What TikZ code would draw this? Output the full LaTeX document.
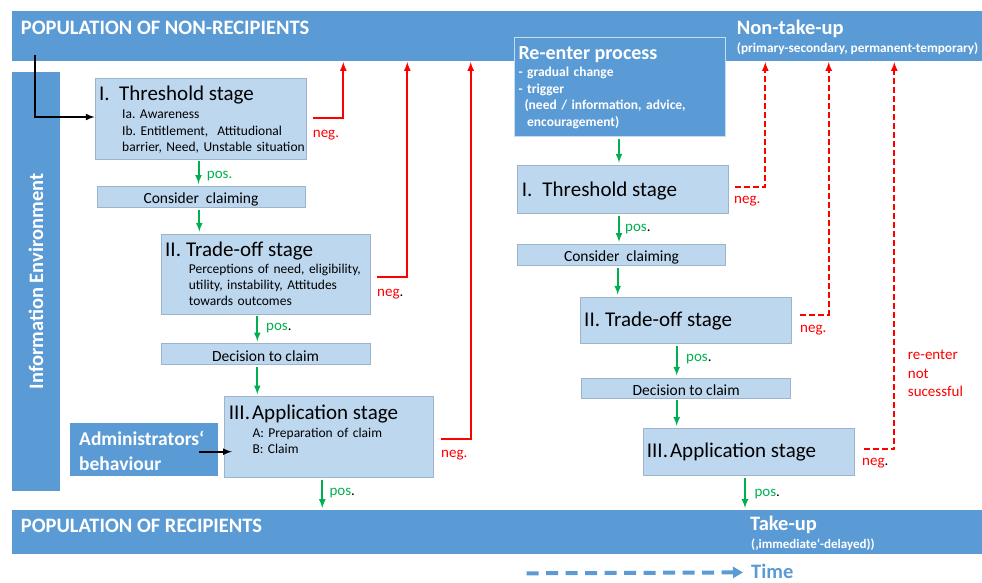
\documentclass[tikz,border=0pt]{standalone}
\usepackage{fontspec}
\setmainfont{Carlito}
\usetikzlibrary{arrows.meta}
\definecolor{dblue}{HTML}{5B9BD5}
\definecolor{lblue}{HTML}{BDD7EE}
\definecolor{lbline}{HTML}{9DB5CC}
\definecolor{pgreen}{HTML}{00B050}
\definecolor{nred}{HTML}{FF0000}

\begin{document}
\frenchspacing
\begin{tikzpicture}[x=1pt,y=-1pt,>=latex,
      band/.style={fill=dblue,inner sep=0pt,anchor=north west},
      lbox/.style={draw=lbline,fill=lblue,inner sep=0pt,line width=0.8pt},
      nbox/.style={lbox,minimum height=21pt,text height=14pt,text depth=0pt,font=\fontsize{15.5}{18}\selectfont},
      dbox/.style={fill=dblue,inner sep=0pt},
      hd/.style={font=\fontsize{20.5}{24}\selectfont\bfseries,text=white,inner sep=0pt,anchor=base west},
      hdsmall/.style={hd,font=\fontsize{13}{16.5}\selectfont\bfseries},
      stg/.style={font=\fontsize{21}{25}\selectfont,inner sep=0pt,anchor=base west},
      sub/.style={font=\fontsize{13.5}{16.2}\selectfont,inner sep=0pt,anchor=base west,text width=200pt,align=left},
      lbl/.style={font=\fontsize{15}{18.7}\selectfont,inner sep=0pt,anchor=base west},
      plbl/.style={lbl,text=pgreen},
      nlbl/.style={lbl,text=nred},
      posarr/.style={->,pgreen,line width=2pt,shorten <=2pt,shorten >=2pt},
      negarr/.style={->,nred,line width=2pt},
      negdash/.style={negarr,dash pattern=on 6pt off 3pt}]
      \useasboundingbox (0,0) rectangle (982,583);

      \node[band,minimum width=970pt,minimum height=50pt] (nonrec) at (12,11) {};
      \node[hd] (nonrectxt) at (20.7,34.3) {POPULATION OF NON-RECIPIENTS};
      \node[hd] (ntu) at (736.7,34.3) {Non-take-up};
      \node[hdsmall,font=\fontsize{13.3}{16.5}\selectfont\bfseries] (ntusub) at (736.7,52.7) {(primary-secondary, permanent-temporary)};
      \node[band,minimum width=970pt,minimum height=44pt] (rec) at (12,510) {};
      \node[hd] (rectxt) at (20.7,532.7) {POPULATION OF RECIPIENTS};
      \node[hd] (tu) at (750,530.7) {Take-up};
      \node[hdsmall] (tusub) at (751,548.3) {(‚immediate‘-delayed))};
      \node[dbox,rotate=90,minimum width=419pt,minimum height=48pt,font=\fontsize{20.5}{24}\selectfont\bfseries,text=white] (infoenv) at (36,281.5) {Information Environment};

      \node[lbox,minimum width=211pt,minimum height=81pt] (th1) at (200.5,118.5) {};
      \node[stg] (th1t) at (99,100.7) {\makebox[20pt][l]{I.}Threshold stage};
      \node[sub] (th1s) at (122,119) {Ia. Awareness\\Ib. Entitlement,\ \ Attitudional\\barrier, Need, Unstable situation};
      \node[nbox,minimum width=208pt] (cc1) at (201,196.7) {Consider\ \ claiming};
      \node[lbox,minimum width=209pt,minimum height=80pt] (tr1) at (265.5,274) {};
      \node[stg] (tr1t) at (165,256) {\makebox[21pt][l]{II.}Trade-off stage};
      \node[sub] (tr1s) at (188.7,273.3) {Perceptions of need, eligibility,\\utility, instability, Attitudes\\towards outcomes};
      \node[nbox,minimum width=209pt] (dc1) at (265.5,354.3) {Decision to claim};
      \node[lbox,minimum width=209pt,minimum height=80.6pt] (app1) at (328.8,437) {};
      \node[stg] (app1t) at (228.7,419.3) {III.\hspace{2pt}Application stage};
      \node[sub] (app1s) at (252.3,437.3) {A: Preparation of claim\\B: Claim};
      \node[dbox,minimum width=147.7pt,minimum height=52.7pt] (adm) at (143.8,449.7) {};
      \node[hd,font=\fontsize{19.5}{24.3}\selectfont\bfseries,text width=140pt,align=left] (admt) at (79,445.7) {Administrators‘\\behaviour};

      \node[dbox,draw=white!65!dblue,line width=1pt,minimum width=211.3pt,minimum height=99pt] (re) at (619.7,87.2) {};
      \node[hd,font=\fontsize{20}{24}\selectfont\bfseries] (ret) at (518.3,59.3) {Re-enter process};
      \node[hdsmall,font=\fontsize{13.5}{16.5}\selectfont\bfseries,text width=205pt,align=left] (res) at (518.3,76.7) {- gradual\ change\\- trigger\\\hspace*{6pt}(need / information, advice,\\\hspace*{8.7pt}encouragement)};
      \node[lbox,minimum width=211.7pt,minimum height=48.3pt] (th2) at (622.8,189.2) {};
      \node[stg] (th2t) at (521.7,196) {\makebox[20.6pt][l]{I.}Threshold stage};
      \node[nbox,minimum width=208.3pt] (cc2) at (621.5,254.8) {Consider\ \ claiming};
      \node[lbox,minimum width=211.4pt,minimum height=46.3pt] (tr2) at (686,320.2) {};
      \node[stg] (tr2t) at (584,326.7) {\makebox[21pt][l]{II.}Trade-off stage};
      \node[nbox,minimum width=209pt,minimum height=20pt] (dc2) at (686.2,388) {Decision to claim};
      \node[lbox,minimum width=211.3pt,minimum height=47.4pt] (app2) at (748.7,452) {};
      \node[stg] (app2t) at (646.7,457.7) {III.\hspace{2pt}Application stage};

      \coordinate (start) at (35,55);
      \draw[->,line width=2pt] (start) |- ([yshift=1.5pt]th1.west);
      \draw[->,line width=2pt] ([xshift=-18.7pt,yshift=-2pt]adm.east) -- ++(32.7,0);

      \draw[posarr] ([xshift=-2pt]th1.south) -- ([xshift=-2.5pt]cc1.north);
      \draw[posarr] ([xshift=-1.7pt]cc1.south) -- ([xshift=-66.2pt]tr1.north);
      \draw[posarr] ([xshift=-8.2pt]tr1.south) -- ([xshift=-8.2pt]dc1.north);
      \draw[posarr] ([xshift=-8.2pt]dc1.south) -- ([xshift=-71.5pt]app1.north);
      \draw[posarr] ([xshift=-6.5pt]app1.south) -- ([xshift=-6.5pt]app1.south |- rec.north);
      \draw[posarr] ([xshift=-0.7pt]re.south) -- ([xshift=-3.8pt]th2.north);
      \draw[posarr] ([xshift=-3.8pt]th2.south) -- ([xshift=-2.5pt]cc2.north);
      \draw[posarr] ([xshift=-3.8pt]cc2.south) -- ([xshift=-68.3pt]tr2.north);
      \draw[posarr] ([xshift=-9.3pt]tr2.south) -- ([xshift=-9.5pt]dc2.north);
      \draw[posarr] ([xshift=-9.5pt]dc2.south) -- ([xshift=-72pt]app2.north);
      \draw[posarr] ([xshift=-3.7pt]app2.south) -- ([xshift=-3.7pt]app2.south |- rec.north);

      \node[plbl] (pos1) at (206.7,178) {pos.};
      \node[plbl] (pos2) at (266,330) {pos\textcolor{black}{.}};
      \node[plbl] (pos3) at (329.3,495) {pos\textcolor{black}{.}};
      \node[plbl] (pos4) at (625,231) {pos\textcolor{black}{.}};
      \node[plbl] (pos5) at (686,361.7) {pos\textcolor{black}{.}};
      \node[plbl] (pos6) at (754.3,496) {pos\textcolor{black}{.}};

      \coordinate (n1) at (343.3,62);
      \coordinate (n2) at (407.3,62);
      \coordinate (n3) at (470.7,62);
      \coordinate (n4) at (765.3,62);
      \coordinate (n5) at (828.7,62);
      \coordinate (n6) at (894.3,62);
      \draw[negarr] ([xshift=6.5pt,yshift=0.2pt]th1.east) -| (n1);
      \draw[negarr] ([xshift=6.7pt,yshift=-2.7pt]tr1.east) -| (n2);
      \draw[negarr] ([xshift=7.4pt,yshift=-2pt]app1.east) -| (n3);
      \draw[negdash] ([xshift=5.6pt,yshift=2.5pt]th2.east) -| (n4);
      \draw[negdash] ([xshift=8.3pt,yshift=5.2pt]tr2.east) -| (n5);
      \draw[negdash] ([xshift=9pt,yshift=3pt]app2.east) -| (n6);

      \node[nlbl] (neg1) at (312.7,138) {neg.};
      \node[nlbl] (neg2) at (377,296) {neg\textcolor{black}{.}};
      \node[nlbl] (neg3) at (441,457) {neg.};
      \node[nlbl] (neg4) at (734,203.3) {neg.};
      \node[nlbl] (neg5) at (800,332.7) {neg.};
      \node[nlbl] (neg6) at (862,465) {neg\textcolor{black}{.}};
      \node[nlbl,text width=60pt,align=left] (renot) at (907.7,359.3) {re-enter\\not\\sucessful};

      \node[font=\fontsize{20.5}{24}\selectfont\bfseries,text=dblue,inner sep=0pt,anchor=base west] (time) at (751,578.5) {Time};
      \coordinate (t0) at (526.7,573.3);
      \draw[dblue,line width=4pt,dash pattern=on 12pt off 7.5pt,-{Triangle[length=10pt,width=11pt]}] (t0) -- ([xshift=-8pt,yshift=-1pt]time.west);
\end{tikzpicture}
\end{document}
